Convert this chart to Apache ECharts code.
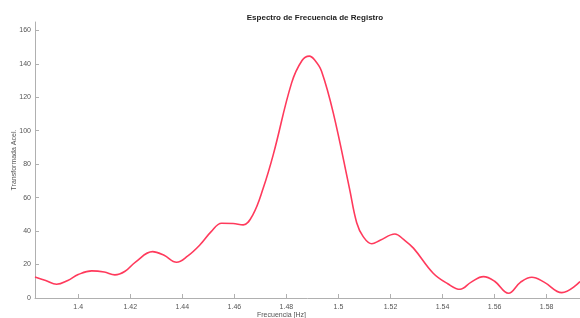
<!DOCTYPE html>
<html>
<head>
<meta charset="utf-8">
<script src="https://cdn.jsdelivr.net/npm/echarts@6/dist/echarts.min.js"></script>
<style>html,body{margin:0;padding:0;background:#fff}#c{width:580px;height:318px}</style>
</head>
<body>
<div id="c"></div>
<script>
const freq = [1.3834,1.3875,1.3917,1.396,1.400,1.4052,1.410,1.4141,1.418,1.422,1.4286,1.433,1.4378,1.442,1.4468,1.451,1.4551,1.4595,1.4634,1.4671,1.4711,1.4750,1.4820,1.4860,1.4888,1.4910,1.4935,1.4980,1.5042,1.5070,1.5095,1.5128,1.5160,1.5217,1.5250,1.5288,1.5364,1.5420,1.5467,1.5510,1.5557,1.5600,1.5653,1.5700,1.5743,1.5790,1.5858,1.5928];
const amp = [12.6,10.5,8.2,10.5,14.0,16.2,15.5,13.8,16,21.5,27.7,25.5,21.4,25,31.8,39.5,44.7,44.5,43.7,49.7,65.7,86,128.6,142,144.6,142,135.6,110.7,65.7,45,36.7,32.4,34.5,38.3,35,29.8,14.8,8.5,5.2,9.5,12.8,10,2.8,9.5,12.4,9.5,3.2,9.8];
const xTicks = [1.4,1.42,1.44,1.46,1.48,1.5,1.52,1.54,1.56,1.58];
const yTicks = [0,20,40,60,80,100,120,140,160];
const titleText = 'Espectro de Frecuencia de Registro';
const xName = 'Frecuencia [Hz]';
const yName = 'Transformada Acel.';

const chart = echarts.init(document.getElementById('c'), null, {renderer:'canvas'});
const font = 'Liberation Sans, Arial, sans-serif';
chart.setOption({
  animation: false,
  backgroundColor: '#fff',
  title: {text: titleText, left: 310, top: 9, textAlign: 'center',
    textStyle: {fontFamily: font, fontSize: 8, fontWeight: 'bold', color: '#222'}},
  grid: {left: 35, right: 0, top: 22, bottom: 20, containLabel: false, outerBoundsMode: 'none'},
  xAxis: {
    type: 'value', min: freq[0], max: freq[freq.length-1],
    name: xName, nameLocation: 'middle', nameGap: 14, nameMoveOverlap: false,
    nameTextStyle: {fontFamily: font, fontSize: 7, color: '#555', padding: [0, 52, 0, 0]},
    axisLine: {show: true, lineStyle: {color: '#b0b0b0', width: 1}},
    axisTick: {show: true, inside: true, length: 4, customValues: xTicks, lineStyle: {color: '#b0b0b0'}},
    axisLabel: {customValues: xTicks, margin: 6, fontFamily: font, fontSize: 7, color: '#555',
      formatter: v => String(+v.toFixed(2))},
    splitLine: {show: false}
  },
  yAxis: {
    type: 'value', min: 0, max: 165,
    name: yName, nameLocation: 'middle', nameGap: 17, nameMoveOverlap: false,
    nameTextStyle: {fontFamily: font, fontSize: 7, color: '#555'},
    axisLine: {show: true, lineStyle: {color: '#b0b0b0', width: 1}},
    axisTick: {show: true, inside: true, length: 4, customValues: yTicks, lineStyle: {color: '#b0b0b0'}},
    axisLabel: {customValues: yTicks, margin: 4, fontFamily: font, fontSize: 7, color: '#555'},
    splitLine: {show: false}
  },
  series: [{
    type: 'line', data: freq.map((f, i) => [f, amp[i]]),
    smooth: 0.4, showSymbol: false,
    lineStyle: {color: '#ff3a5c', width: 1.6}
  }]
});
</script>
</body>
</html>
